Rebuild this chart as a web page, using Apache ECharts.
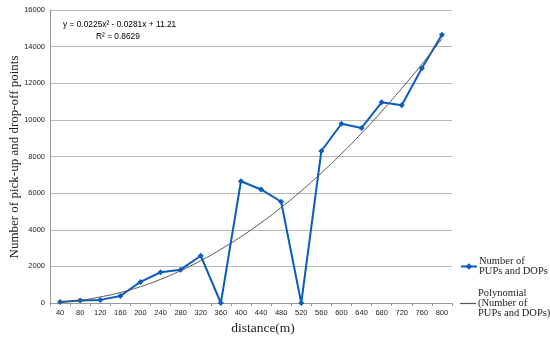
<!DOCTYPE html>
<html><head><meta charset="utf-8">
<script src="https://cdn.jsdelivr.net/npm/echarts@6/dist/echarts.min.js"></script>
<style>html,body{margin:0;padding:0;background:#fff}#c{width:550px;height:340px}</style>
</head><body><div id="c"></div>
<script>
const categories = ['40','80','120','160','200','240','280','320','360','400','440','480','520','560','600','640','680','720','760','800'];
const counts = [50,130,170,380,1150,1680,1820,2580,0,6650,6200,5530,0,8300,9790,9560,10960,10800,12820,14650];
const trend = [46,146,331,572,889,1290,1765,2310,2930,3620,4380,5220,6120,7100,8150,9270,10460,11720,13040,14430];
const yTicks = [0,2000,4000,6000,8000,10000,12000,14000,16000];

const chart = echarts.init(document.getElementById('c'));
const serif = 'Liberation Serif';
chart.setOption({
  animation: false,
  grid: {left: 50, right: 98, top: 10, bottom: 37, outerBoundsMode: 'none', containLabel: false},
  xAxis: {
    type: 'category', data: categories, boundaryGap: true,
    axisLine: {lineStyle: {color: '#999', width: 1}},
    axisTick: {show: true, length: 3, lineStyle: {color: '#999'}},
    axisLabel: {fontSize: 7.5, color: '#222', fontFamily: 'Liberation Sans', margin: 6}
  },
  yAxis: {
    type: 'value', min: yTicks[0], max: yTicks[yTicks.length-1], interval: 2000,
    axisLine: {show: true, lineStyle: {color: '#999'}},
    axisTick: {show: false},
    axisLabel: {fontSize: 7.5, color: '#222', fontFamily: 'Liberation Sans', margin: 5, formatter: v => String(v)},
    splitLine: {lineStyle: {color: '#b8b8b8', width: 1.2}}
  },
  legend: [
    {left: 460, top: 256, itemWidth: 16, itemHeight: 8, padding: 0,
     data: [{name: 'Number of\nPUPs and DOPs'}],
     textStyle: {fontFamily: serif, fontSize: 10.5, lineHeight: 10, color: '#222', padding: [0,0,0,-3]}},
    {left: 460, top: 288, itemWidth: 16, itemHeight: 1.2, padding: 0,
     data: [{name: 'Polynomial\n(Number of\nPUPs and DOPs)', icon: 'rect'}],
     textStyle: {fontFamily: serif, fontSize: 10.5, lineHeight: 10, color: '#222', padding: [0,0,0,-3]}}
  ],
  series: [
    {name: 'Polynomial\n(Number of\nPUPs and DOPs)', type: 'line', data: trend, smooth: true,
     symbol: 'none', lineStyle: {color: '#555', width: 1}, itemStyle: {color: '#555'}, z: 3},
    {name: 'Number of\nPUPs and DOPs', type: 'line', data: counts,
     symbol: 'diamond', symbolSize: 6,
     lineStyle: {color: '#0a5cc0', width: 2}, itemStyle: {color: '#0a5cc0'}, z: 2}
  ],
  graphic: [
    {type: 'text', x: 63, y: 19, scaleX: 0.88, style: {text: 'y = 0.0225x² - 0.0281x + 11.21', font: '9.5px "Liberation Sans"', fill: '#000'}},
    {type: 'text', x: 96, y: 31, scaleX: 0.88, style: {text: 'R² = 0.8629', font: '9.5px "Liberation Sans"', fill: '#000'}},
    {type: 'text', x: 15, y: 157, rotation: Math.PI / 2, style: {text: 'Number of pick-up and drop-off points', font: '13px "Liberation Serif"', fill: '#222', align: 'center', verticalAlign: 'middle'}},
    {type: 'text', x: 263, y: 328, style: {text: 'distance(m)', font: '13.5px "Liberation Serif"', fill: '#222', align: 'center', verticalAlign: 'middle'}}
  ]
});
</script></body></html>
